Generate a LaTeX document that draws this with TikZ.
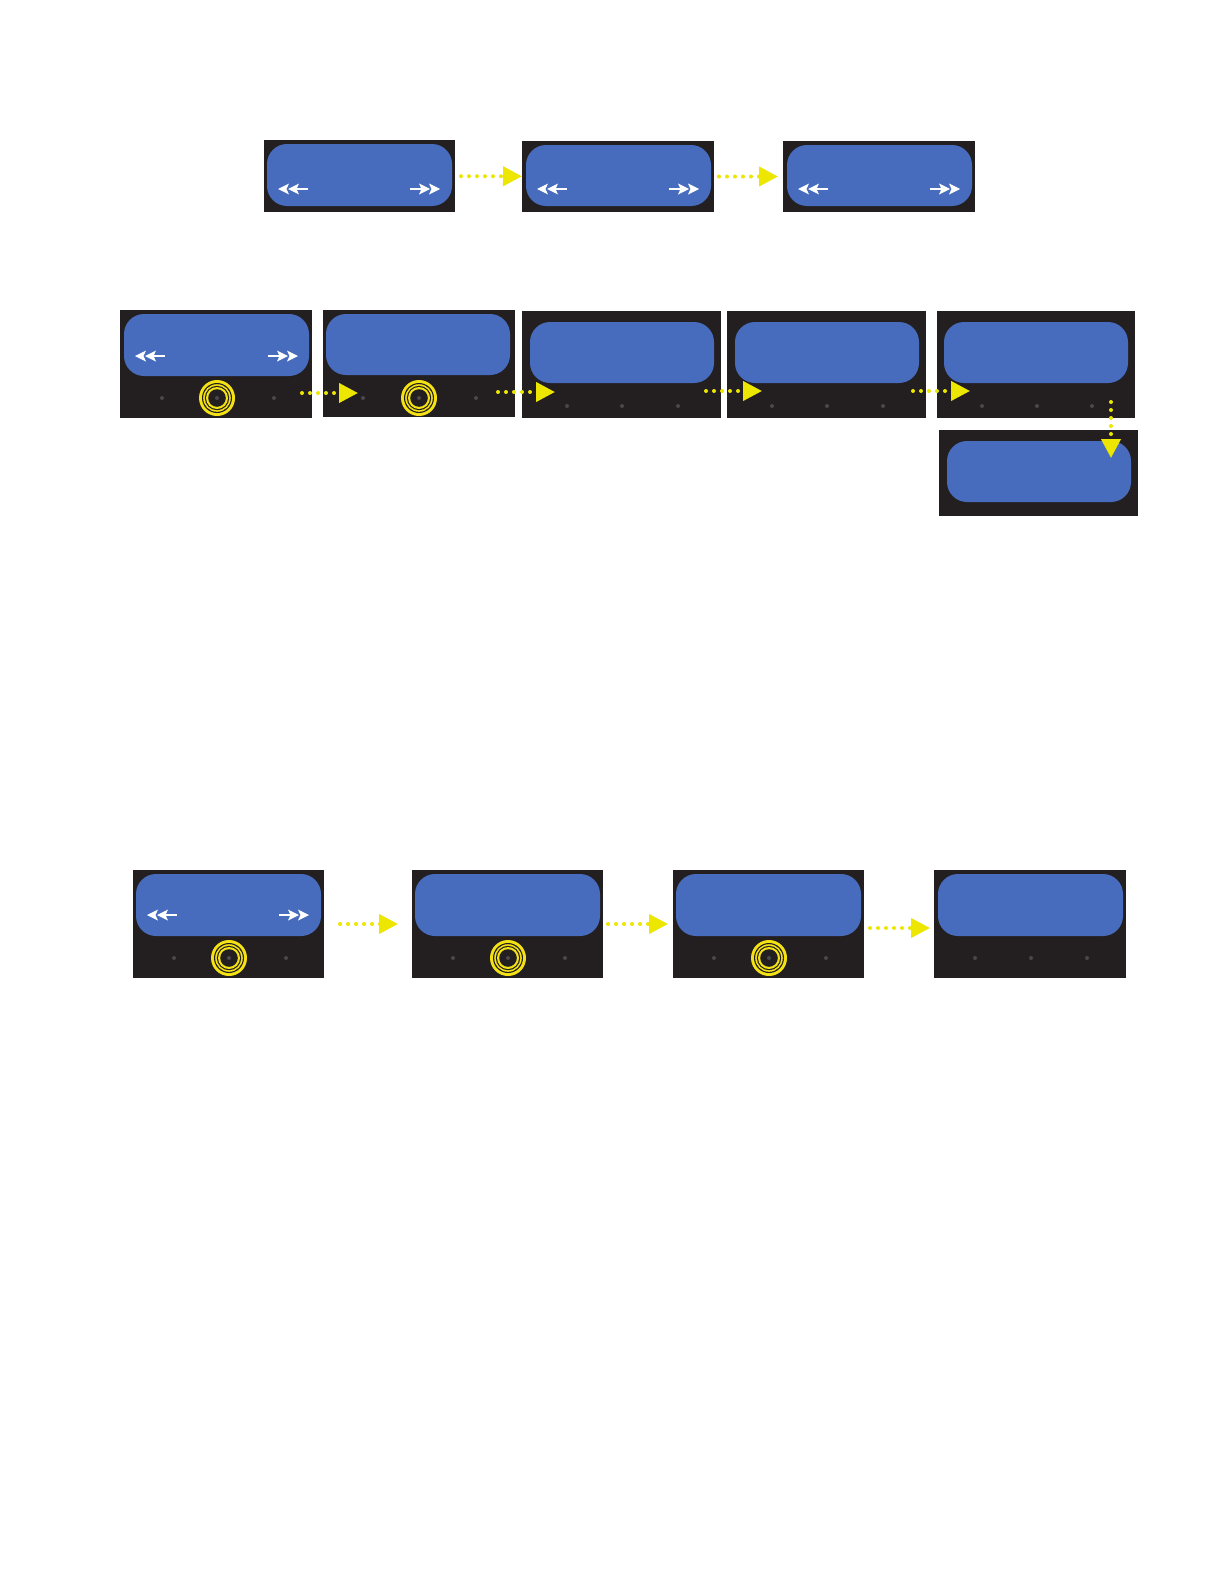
\documentclass[tikz,border=0pt]{standalone}
\usetikzlibrary{arrows.meta}
\definecolor{bk}{RGB}{35,31,32}
\definecolor{scr}{RGB}{71,108,189}
\definecolor{ylw}{RGB}{236,230,0}
\definecolor{ringc}{RGB}{244,226,20}
\definecolor{led}{RGB}{72,72,76}
\tikzset{
  panel/.style={rectangle, fill=bk, inner sep=0pt, outer sep=0pt},
  screen/.style={rectangle, fill=scr, rounded corners=20pt, inner sep=0pt, outer sep=0pt},
  flow/.style={draw=ylw, line width=4pt, dash pattern=on 0pt off 8pt, line cap=round,
    -{Triangle[length=19pt,width=19pt]}},
  lftarr/.pic={
    \fill[white] (0,0)--(11,-5.5)--(8.5,0)--(11,5.5)--cycle;
    \fill[white] (10,0)--(21,-5.5)--(18.5,0)--(21,5.5)--cycle;
    \draw[white,line width=1.4pt] (14,0)--(30,0);},
  rgtarr/.pic={
    \draw[white,line width=1.4pt] (0,0)--(16,0);
    \fill[white] (30,0)--(19,-5.5)--(21.5,0)--(19,5.5)--cycle;
    \fill[white] (20,0)--(9,-5.5)--(11.5,0)--(9,5.5)--cycle;},
  ringpic/.pic={
    \fill[ringc] (0,0) circle (18pt);
    \fill[bk] (0,0) circle (15pt);
    \fill[ringc] (0,0) circle (13.8pt);
    \fill[bk] (0,0) circle (12.2pt);
    \fill[ringc] (0,0) circle (11pt);
    \fill[bk] (0,0) circle (8.8pt);
    \fill[led] (0,0) circle (2pt);}
}
\newcommand\boxnode[6]{%
  \pgfmathsetmacro\myBW{#5-#3}\pgfmathsetmacro\myBH{#6-#4}%
  \node[#2, minimum width=\myBW pt, minimum height=\myBH pt] (#1) at ({(#3+#5)/2},{(#4+#6)/2}) {};}
\newcommand\leddot[2]{\fill[led] (#1,#2) circle (2pt);}
\begin{document}
\begin{tikzpicture}[x=1pt,y=-1pt]
\useasboundingbox[fill=white] (0,0) rectangle (1224,1584);

% ---------------- Row 1 ----------------
\boxnode{p11}{panel}{264}{140}{455}{212}
\boxnode{s11}{screen}{267}{144}{452}{206}
\pic at (278,189) {lftarr}; \pic at (410,189) {rgtarr};
\boxnode{p12}{panel}{522}{141}{714}{212}
\boxnode{s12}{screen}{526}{145}{711}{206}
\pic at (537,189) {lftarr}; \pic at (669,189) {rgtarr};
\boxnode{p13}{panel}{783}{141}{975}{212}
\boxnode{s13}{screen}{787}{145}{972}{206}
\pic at (798,189) {lftarr}; \pic at (930,189) {rgtarr};

\draw[flow, shorten <=6pt] (p11) -- (p12);
\draw[flow, shorten <=5pt, shorten >=5pt] (p12) -- (p13);

% ---------------- Row 2 ----------------
\boxnode{p21}{panel}{120}{310}{312}{418}
\boxnode{s21}{screen}{124}{314}{309}{376}
\pic at (135,356) {lftarr}; \pic at (268,356) {rgtarr};
\leddot{162}{398}\leddot{274}{398}
\pic at (217,398) {ringpic};

\boxnode{p22}{panel}{323}{310}{515}{417}
\boxnode{s22}{screen}{326}{314}{510}{375}
\leddot{363}{398}\leddot{476}{398}
\pic at (419,398) {ringpic};

\boxnode{p23}{panel}{522}{311}{721}{418}
\boxnode{s23}{screen}{530}{322}{714}{383}
\leddot{567}{406}\leddot{622}{406}\leddot{678}{406}

\boxnode{p24}{panel}{727}{311}{926}{418}
\boxnode{s24}{screen}{735}{322}{919}{383}
\leddot{772}{406}\leddot{827}{406}\leddot{883}{406}

\boxnode{p25}{panel}{937}{311}{1135}{418}
\boxnode{s25}{screen}{944}{322}{1128}{383}
\leddot{982}{406}\leddot{1037}{406}\leddot{1092}{406}

\boxnode{p26}{panel}{939}{430}{1138}{516}
\boxnode{s26}{screen}{947}{441}{1131}{502}

\coordinate (ab1) at (302,393); \coordinate (ab2) at (358,393);
\coordinate (bc1) at (498,392); \coordinate (bc2) at (555,392);
\coordinate (cd1) at (706,391); \coordinate (cd2) at (762,391);
\coordinate (de1) at (913,391); \coordinate (de2) at (970,391);
\coordinate (ef1) at (1111,402); \coordinate (ef2) at (1111,458);
\draw[flow] (ab1) -- (ab2);
\draw[flow] (bc1) -- (bc2);
\draw[flow] (cd1) -- (cd2);
\draw[flow] (de1) -- (de2);
\draw[flow] (ef1) -- (ef2);

% ---------------- Row 3 ----------------
\boxnode{p31}{panel}{133}{870}{324}{978}
\boxnode{s31}{screen}{136}{874}{321}{936}
\pic at (147,915) {lftarr}; \pic at (279,915) {rgtarr};
\leddot{174}{958}\leddot{286}{958}
\pic at (229,958) {ringpic};

\boxnode{p32}{panel}{412}{870}{603}{978}
\boxnode{s32}{screen}{415}{874}{600}{936}
\leddot{453}{958}\leddot{565}{958}
\pic at (508,958) {ringpic};

\boxnode{p33}{panel}{673}{870}{864}{978}
\boxnode{s33}{screen}{676}{874}{861}{936}
\leddot{714}{958}\leddot{826}{958}
\pic at (769,958) {ringpic};

\boxnode{p34}{panel}{934}{870}{1126}{978}
\boxnode{s34}{screen}{938}{874}{1123}{936}
\leddot{975}{958}\leddot{1031}{958}\leddot{1087}{958}

\draw[flow, shorten <=16pt, shorten >=14pt] (p31) -- (p32);
\draw[flow, shorten <=5pt, shorten >=5pt] (p32) -- (p33);
\draw[flow, shorten <=6pt, shorten >=4pt] ([yshift=-4pt]p33.east) -- ([yshift=-4pt]p34.west);
\end{tikzpicture}
\end{document}
